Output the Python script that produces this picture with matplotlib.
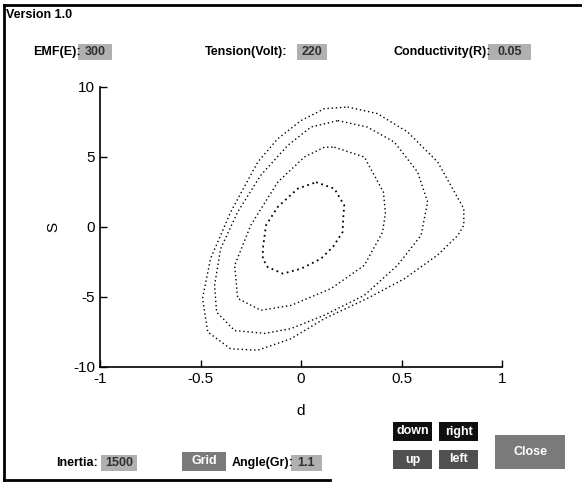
import matplotlib
matplotlib.use("Agg")
import matplotlib.pyplot as plt
from matplotlib.patches import Rectangle
from matplotlib.lines import Line2D

plt.rcParams['font.family'] = ['Liberation Sans', 'DejaVu Sans']

# Contour curves (d, S), innermost first
c1_d = [0.075, 0.166, 0.215, 0.21, 0.207, 0.16, 0.10, 0.0, -0.09, -0.166, -0.19, -0.19, -0.174, -0.116, -0.016, 0.075]
c1_s = [3.2, 2.74, 1.55, 0.6, -0.36, -1.4, -2.26, -2.98, -3.33, -2.86, -2.26, -1.55, 0.12, 1.43, 2.74, 3.2]
c2_d = [0.166, 0.315, 0.41, 0.42, 0.406, 0.315, 0.149, -0.05, -0.2, -0.315, -0.33, -0.25, -0.116, 0.017, 0.116, 0.166]
c2_s = [5.7, 5.0, 2.5, 1.0, -0.36, -2.74, -4.4, -5.6, -5.95, -5.1, -2.74, 0.12, 3.2, 5.0, 5.7, 5.7]
c3_d = [0.183, 0.33, 0.464, 0.58, 0.63, 0.597, 0.48, 0.315, 0.116, -0.05, -0.18, -0.33, -0.42, -0.43, -0.4, -0.315, -0.2, -0.066, 0.05, 0.183]
c3_s = [7.6, 7.14, 6.07, 3.93, 1.79, -0.6, -2.74, -4.88, -6.3, -7.26, -7.6, -7.4, -6.07, -4.17, -1.55, 1.07, 3.7, 5.83, 7.14, 7.6]
c4_d = [0.232, 0.38, 0.53, 0.68, 0.81, 0.81, 0.78, 0.68, 0.514, 0.33, 0.116, -0.05, -0.215, -0.35, -0.464, -0.49, -0.45, -0.35, -0.215, -0.116, 0.0, 0.116, 0.232]
c4_s = [8.57, 8.1, 6.79, 4.64, 1.31, 0.12, -0.6, -2.0, -3.7, -5.1, -6.55, -7.98, -8.8, -8.7, -7.5, -5.1, -2.26, 1.07, 4.64, 6.3, 7.6, 8.45, 8.57]

x_ticks = [-1, -0.5, 0, 0.5, 1]
x_labels = ['-1', '-0.5', '0', '0.5', '1']
y_ticks = [-10, -5, 0, 5, 10]
y_labels = ['-10', '-5', '0', '5', '10']

W, H = 582, 484
fig = plt.figure(figsize=(W / 100, H / 100), dpi=100)
fig.patch.set_facecolor('white')

def fx(px):
    return px / W

def fy(py):
    return 1 - py / H

ax = fig.add_axes([fx(100), fy(367), fx(502) - fx(100), fy(87) - fy(367)])
curves = [(c1_d, c1_s, 1.3), (c2_d, c2_s, 1.0), (c3_d, c3_s, 1.0), (c4_d, c4_s, 1.0)]
for d, s, lw in curves:
    ax.plot(d, s, color='black', linestyle=(0, (1, 2)), linewidth=lw)
ax.set_xlim(-1, 1)
ax.set_ylim(-10, 10)
ax.set_xticks(x_ticks)
ax.set_xticklabels(x_labels)
ax.set_yticks(y_ticks)
ax.set_yticklabels(y_labels)
ax.tick_params(direction='in', length=5, width=1, labelsize=11, colors='black')
for side in ['top', 'right']:
    ax.spines[side].set_visible(False)
for side in ['left', 'bottom']:
    ax.spines[side].set_linewidth(1.2)
ax.set_xlabel('d', fontsize=11)
ax.set_ylabel('S', fontsize=11)
ax.xaxis.set_label_coords(0.5, (367 - 404) / 280)
ax.yaxis.set_label_coords((60 - 100) / 402, 0.5)

# window frame
for (x0, y0, x1, y1, lw) in [(4, 5, 582, 5, 2), (4, 5, 4, 480, 2), (4, 480, 330, 480, 2)]:
    fig.add_artist(Line2D([fx(x0), fx(x1)], [fy(y0), fy(y1)], color='black', linewidth=lw,
                          transform=fig.transFigure))

def label(px, py, txt, size=9, weight='bold'):
    fig.text(fx(px), fy(py), txt, fontsize=size, fontweight=weight, ha='left', va='center')

def box(x0, y0, x1, y1, txt, fc='#8c8c8c', tc='white', size=9):
    fig.add_artist(Rectangle((fx(x0), fy(y1)), fx(x1) - fx(x0), fy(y0) - fy(y1),
                             facecolor=fc, edgecolor='none', transform=fig.transFigure))
    fig.text(fx((x0 + x1) / 2), fy((y0 + y1) / 2), txt, fontsize=size, fontweight='bold',
             color=tc, ha='center', va='center')

label(6, 15, 'Version 1.0', size=9)
label(33, 52, 'EMF(E):')
box(78, 44, 112, 60, '300', fc='#b0b0b0', tc='#303030')
label(205, 52, 'Tension(Volt):')
box(297, 44, 327, 60, '220', fc='#b0b0b0', tc='#303030')
label(393, 52, 'Conductivity(R):')
box(488, 44, 531, 60, '0.05', fc='#b0b0b0', tc='#303030')

label(56, 463, 'Inertia:')
box(101, 455, 137, 471, '1500', fc='#b0b0b0', tc='#303030')
box(182, 452, 226, 471, 'Grid', fc='#7a7a7a', tc='white')
label(232, 463, 'Angle(Gr):')
box(291, 455, 322, 471, '1.1', fc='#b0b0b0', tc='#303030')
box(393, 422, 432, 441, 'down', fc='#101010', tc='white')
box(439, 422, 478, 441, 'right', fc='#101010', tc='white')
box(393, 450, 432, 469, 'up', fc='#505050', tc='white')
box(439, 450, 478, 469, 'left', fc='#505050', tc='white')
box(495, 435, 565, 469, 'Close', fc='#7a7a7a', tc='white')

fig.savefig('out.png', dpi=100, facecolor='white')
